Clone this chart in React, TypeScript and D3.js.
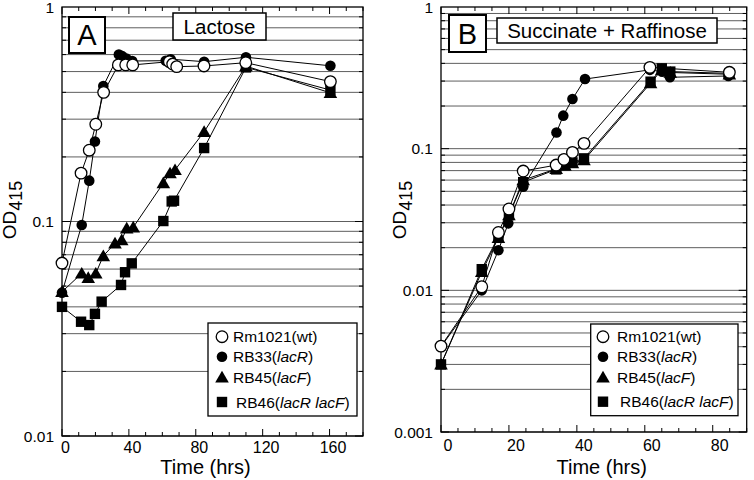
import React from "react";
import * as d3 from "d3";

// ---------- Data ----------
const legendPrefix = ["Rm1021(wt)", "RB33(", "RB45(", "RB46("];
const legendItalic = ["", "lacR", "lacF", "lacR lacF"];
const legendSuffix = ["", ")", ")", ")"];
const markerKinds = ["openCircle", "filledCircle", "triangle", "square"];

// Panel A: Lactose
const tA_wt = [0, 11.4, 16.3, 20.2, 24.9, 33.7, 38.1, 42.3, 64.2, 66.2, 68.6, 84.9, 109.9, 160.5];
const odA_wt = [0.064, 0.168, 0.215, 0.284, 0.4, 0.537, 0.537, 0.537, 0.556, 0.542, 0.527, 0.531, 0.55, 0.449];
const tA_rb33 = [0, 11.8, 16.3, 19.7, 24.7, 34, 36, 38.5, 42, 62, 65, 85, 110, 160.5];
const odA_rb33 = [0.0466, 0.0963, 0.155, 0.236, 0.428, 0.6, 0.59, 0.575, 0.56, 0.562, 0.571, 0.556, 0.583, 0.532];
const tA_rb45 = [0, 11.8, 15.7, 20.2, 24.7, 31.7, 35.7, 38.7, 42.6, 60.6, 64.6, 67.6, 85, 110, 160.5];
const odA_rb45 = [0.047, 0.0573, 0.0547, 0.0573, 0.0691, 0.0791, 0.082, 0.0929, 0.094, 0.151, 0.168, 0.174, 0.262, 0.53, 0.398];
const tA_rb46 = [0, 11.4, 16.3, 19.7, 23.7, 35.3, 37.7, 41.7, 60.6, 65.6, 67, 85, 110, 160.5];
const odA_rb46 = [0.04, 0.0341, 0.0329, 0.0371, 0.0423, 0.0506, 0.058, 0.0638, 0.1005, 0.124, 0.125, 0.22, 0.523, 0.41];

// Panel B: Succinate + Raffinose
const tB_wt = [0, 12, 16.9, 20, 24.2, 33.9, 36.2, 38.7, 42.1, 61.5, 84.9];
const odB_wt = [0.00404, 0.0106, 0.0256, 0.0375, 0.0695, 0.0766, 0.084, 0.0941, 0.109, 0.375, 0.346];
const tB_rb33 = [0, 12, 16.9, 19.8, 24.2, 34, 36, 38.7, 42.4, 61.5, 65.1, 67.4, 84.6];
const odB_rb33 = [0.004, 0.01, 0.0192, 0.0297, 0.0538, 0.13, 0.171, 0.224, 0.31, 0.36, 0.349, 0.319, 0.326];
const tB_rb45 = [0, 12, 16.9, 20, 24.2, 33.9, 36.5, 38.7, 42.1, 61.7, 65, 67.5, 84.9];
const odB_rb45 = [0.003, 0.0135, 0.0235, 0.034, 0.06, 0.072, 0.076, 0.079, 0.083, 0.29, 0.36, 0.345, 0.335];
const tB_rb46 = [0, 12, 16.9, 20, 24.2, 33.9, 36.5, 38.7, 42.1, 61.7, 65, 67.5, 84.9];
const odB_rb46 = [0.003, 0.0141, 0.024, 0.034, 0.058, 0.0714, 0.0766, 0.08, 0.0854, 0.297, 0.369, 0.35, 0.34];

const xTicksA = [0, 40, 80, 120, 160];
const xTicksB = [0, 20, 40, 60, 80];
const yTicksA = [1, 0.1, 0.01];
const yTicksB = [1, 0.1, 0.01, 0.001];

const FONT = "'Liberation Sans', Arial, Helvetica, sans-serif";

function Marker({ kind, x, y }: { kind: string; x: number; y: number }) {
  if (kind === "openCircle")
    return <circle cx={x} cy={y} r={5.8} fill="#fff" stroke="#000" strokeWidth={1.3} />;
  if (kind === "filledCircle") return <circle cx={x} cy={y} r={5.3} fill="#000" />;
  if (kind === "triangle")
    return <path d={`M${x},${y - 6.5}L${x + 6.8},${y + 5.2}L${x - 6.8},${y + 5.2}Z`} fill="#000" />;
  return <rect x={x - 5.2} y={y - 5.2} width={10.4} height={10.4} fill="#000" />;
}

type PanelCfg = {
  left: number; right: number; top: number; bottom: number;
  xDomain: [number, number]; yDomain: [number, number];
  xTicks: number[]; yTicks: number[]; xMinorStep: number; xMajorStep: number;
  series: { t: number[]; od: number[] }[];
  letter: string; letterBox: [number, number, number, number];
  title: string; titleBox: [number, number, number, number];
  legendBox: [number, number, number, number]; legendMarkerX: number; legendTextX: number;
  legendRows: number[];
  labelDx: number; xLabelY: number; yLabelX: number; yTitleX: number; yTitleY: number;
  xTitleX: number;
};

function Panel({ c }: { c: PanelCfg }) {
  const x = d3.scaleLinear().domain(c.xDomain).range([c.left, c.right]);
  const y = d3.scaleLog().domain(c.yDomain).range([c.bottom, c.top]);
  const line = d3.line<[number, number]>().x((d) => x(d[0])).y((d) => y(d[1]));

  const grid: number[] = [];
  const [lo, hi] = c.yDomain;
  for (let e = Math.round(Math.log10(lo)); e < Math.round(Math.log10(hi)); e++) {
    for (let m = 1; m <= 9; m++) grid.push(m * Math.pow(10, e));
  }
  const xMinor: number[] = [];
  for (let t = 0; t <= c.xDomain[1] + 1e-6; t += c.xMinorStep) xMinor.push(t);

  const order = [3, 2, 1, 0];
  return (
    <g>
      {grid.map((v, i) => (
        <line key={"g" + i} x1={c.left} x2={c.right} y1={y(v)} y2={y(v)} stroke="#5e5e5e" strokeWidth={1} />
      ))}
      {xMinor.map((t, i) => {
        const major = Math.abs(t / c.xMajorStep - Math.round(t / c.xMajorStep)) < 1e-6;
        const len = major ? 7 : 4;
        return (
          <g key={"xt" + i}>
            <line x1={x(t)} x2={x(t)} y1={c.bottom} y2={c.bottom - len} stroke="#000" />
            <line x1={x(t)} x2={x(t)} y1={c.top} y2={c.top + len} stroke="#000" />
          </g>
        );
      })}
      {grid.map((v, i) => {
        const len = i % 9 === 0 ? 8 : 4;
        return (
          <g key={"yt" + i}>
            <line x1={c.left} x2={c.left + len} y1={y(v)} y2={y(v)} stroke="#000" />
            <line x1={c.right} x2={c.right - len} y1={y(v)} y2={y(v)} stroke="#000" />
          </g>
        );
      })}
      <rect x={c.left} y={c.top} width={c.right - c.left} height={c.bottom - c.top} fill="none" stroke="#000" strokeWidth={1.3} />

      {order.map((si) => {
        const s = c.series[si];
        const pts = s.t.map((t, i) => [t, s.od[i]] as [number, number]);
        return <path key={"l" + si} d={line(pts) || ""} fill="none" stroke="#000" strokeWidth={1} />;
      })}
      {order.map((si) => {
        const s = c.series[si];
        return (
          <g key={"m" + si}>
            {s.t.map((t, i) => (
              <Marker key={i} kind={markerKinds[si]} x={x(t)} y={y(s.od[i])} />
            ))}
          </g>
        );
      })}

      <rect x={c.letterBox[0]} y={c.letterBox[1]} width={c.letterBox[2]} height={c.letterBox[3]} fill="#fff" stroke="#000" strokeWidth={2} />
      <text x={c.letterBox[0] + c.letterBox[2] / 2} y={c.letterBox[1] + c.letterBox[3] / 2 + 10} textAnchor="middle" fontSize={29} fontFamily={FONT}>{c.letter}</text>
      <rect x={c.titleBox[0]} y={c.titleBox[1]} width={c.titleBox[2]} height={c.titleBox[3]} fill="#fff" stroke="#000" strokeWidth={1.5} />
      <text x={c.titleBox[0] + c.titleBox[2] / 2} y={c.titleBox[1] + c.titleBox[3] / 2 + 7} textAnchor="middle" fontSize={20.5} fontFamily={FONT}>{c.title}</text>

      <rect x={c.legendBox[0]} y={c.legendBox[1]} width={c.legendBox[2]} height={c.legendBox[3]} fill="#fff" stroke="#000" strokeWidth={1.3} />
      {legendPrefix.map((p, i) => (
        <g key={"lg" + i}>
          <Marker kind={markerKinds[i]} x={c.legendMarkerX} y={c.legendRows[i]} />
          <text x={c.legendTextX + (i === 3 ? 3 : 0)} y={c.legendRows[i] + 5.5} fontSize={15.5} fontFamily={FONT}>
            {p}
            {legendItalic[i] ? <tspan fontStyle="italic">{legendItalic[i]}</tspan> : null}
            {legendSuffix[i]}
          </text>
        </g>
      ))}

      {c.xTicks.map((t) => (
        <text key={"xl" + t} x={x(t) + c.labelDx} y={c.xLabelY} textAnchor="middle" fontSize={16} fontFamily={FONT}>{t}</text>
      ))}
      {c.yTicks.map((v) => (
        <text key={"yl" + v} x={c.yLabelX} y={y(v) + 5.5} textAnchor="end" fontSize={15.5} fontFamily={FONT}>{String(v)}</text>
      ))}
      <text x={c.xTitleX} y={474} textAnchor="middle" fontSize={20} fontFamily={FONT}>Time (hrs)</text>
      <g transform={`translate(${c.yTitleX},${c.yTitleY}) rotate(-90)`}>
        <text x={0} y={0} textAnchor="middle" fontSize={19} fontFamily={FONT}>
          OD<tspan dy={6} fontSize={18}>415</tspan>
        </text>
      </g>
    </g>
  );
}

export default function App() {
  const A: PanelCfg = {
    left: 62, right: 363, top: 7, bottom: 436,
    xDomain: [0, 180], yDomain: [0.01, 1],
    xTicks: xTicksA, yTicks: yTicksA, xMinorStep: 10, xMajorStep: 40,
    series: [
      { t: tA_wt, od: odA_wt }, { t: tA_rb33, od: odA_rb33 },
      { t: tA_rb45, od: odA_rb45 }, { t: tA_rb46, od: odA_rb46 },
    ],
    letter: "A", letterBox: [69, 17, 36, 36],
    title: "Lactose", titleBox: [173, 13, 93, 27],
    legendBox: [208, 323, 149, 93], legendMarkerX: 222, legendTextX: 233,
    legendRows: [336.7, 356.7, 377.3, 402],
    labelDx: 3.5, xLabelY: 453, yLabelX: 54, yTitleX: 16, yTitleY: 210, xTitleX: 205.5,
  };
  const B: PanelCfg = {
    left: 441, right: 746.7, top: 7, bottom: 432,
    xDomain: [0, 90], yDomain: [0.001, 1],
    xTicks: xTicksB, yTicks: yTicksB, xMinorStep: 5, xMajorStep: 20,
    series: [
      { t: tB_wt, od: odB_wt }, { t: tB_rb33, od: odB_rb33 },
      { t: tB_rb45, od: odB_rb45 }, { t: tB_rb46, od: odB_rb46 },
    ],
    letter: "B", letterBox: [449, 15, 37, 37],
    title: "Succinate + Raffinose", titleBox: [497, 18, 220, 25],
    legendBox: [590.7, 324, 147.3, 91.7], legendMarkerX: 603, legendTextX: 617,
    legendRows: [336.7, 356.7, 377.3, 401.7],
    labelDx: 7, xLabelY: 451, yLabelX: 433, yTitleX: 406, yTitleY: 210, xTitleX: 601.7,
  };
  return (
    <svg width={754} height={480} style={{ position: "absolute", left: 0, top: 0, background: "#fff" }}>
      <rect x={0} y={0} width={754} height={480} fill="#fff" />
      <Panel c={A} />
      <Panel c={B} />
    </svg>
  );
}
